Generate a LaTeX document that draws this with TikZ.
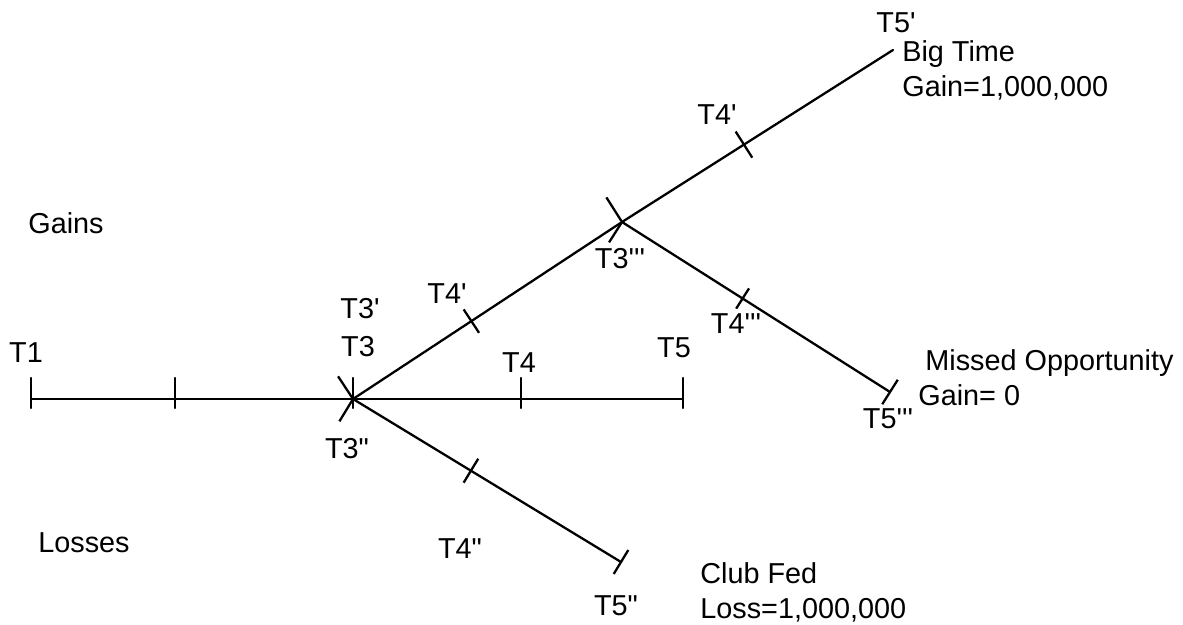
\documentclass[tikz,border=0pt]{standalone}
\usepackage{fontspec}
\setmainfont{Liberation Sans}
\usepackage{tikz}

\newcommand\onep{\textquotesingle}
\newcommand\twop{\textquotedbl}
\newcommand\threep{\textquotesingle\textquotesingle\textquotesingle}

\tikzset{
  branch/.style={line width=1.3pt, line cap=round},
  tickmark/.style={draw, line width=1.3pt, sloped, rectangle, minimum width=0pt,
    minimum height=#1, inner sep=0pt},
  tickmark/.default=0.56cm,
  lbl/.style={font=\fontsize{16.4}{19}\selectfont, inner sep=0pt, anchor=base},
  txt/.style={lbl, anchor=base west}
}

\begin{document}
\begin{tikzpicture}[x=0.02cm, y=-0.02cm]

\useasboundingbox (0,0) rectangle (1183,625);

% Punti dell'albero (coordinate in pixel)
\coordinate (t1) at (31,399);
\coordinate (t2) at (175,399);
\coordinate (t3) at (353,399);
\coordinate (t4) at (521,399);
\coordinate (t5) at (683,399);
\coordinate (t3u) at (622,222);  % T3'''
\coordinate (t5a) at (893,50);   % T5'
\coordinate (t5c) at (890,392);  % T5'''
\coordinate (t5b) at (621,562);  % T5''

% Linea principale
\draw[branch] (t1) -- (t5);
\foreach \c in {t1,t2,t3,t4,t5}
  \draw[branch] (\c) ++(0,9) -- ++(0,-30);

% Ramo dei guadagni
\draw[branch] (t3) -- (t3u)
  node[tickmark=0.52cm, pos=0, anchor=south] (k3a) {}
  node[tickmark, pos=0.44] (k4a) {};
\draw[branch] (t3u) -- (t5a)
  node[tickmark=0.56cm, pos=0, anchor=south] (k3u) {}
  node[tickmark=0.62cm, pos=0.45] (k4u) {};
\draw[branch] (t3u) -- (t5c)
  node[tickmark=0.46cm, pos=0, anchor=north] (k3d) {}
  node[tickmark=0.48cm, pos=0.45] (k4d) {}
  node[tickmark=0.58cm, pos=1] (k5d) {};

% Ramo delle perdite
\draw[branch] (t3) -- (t5b)
  node[tickmark=0.5cm, pos=0, anchor=north] (k3b) {}
  node[tickmark, pos=0.44] (k4b) {}
  node[tickmark, pos=1] (k5b) {};

% Etichette dei tempi
\node[lbl] (l1) at (26,362) {T1};
\node[lbl] (l3) at (358,356) {T3};
\node[lbl] (l3a) at (360,318) {T3\onep};
\node[lbl] (l4) at (519,372) {T4};
\node[lbl] (l5) at (674,357) {T5};
\node[lbl] (l3b) at (347,458) {T3\twop};
\node[lbl] (l4a) at (447,303) {T4\onep};
\node[lbl] (l4u) at (717,125) {T4\onep};
\node[lbl] (l5a) at (896,33) {T5\onep};
\node[lbl] (l3u) at (620,268) {T3\threep};
\node[lbl] (l4d) at (736,333) {T4\threep};
\node[lbl] (l5d) at (888,428) {T5\threep};
\node[lbl] (l4b) at (460,558) {T4\twop};
\node[lbl] (l5b) at (616,615) {T5\twop};

% Testi
\node[txt] (gains) at (28,233) {Gains};
\node[txt] (losses) at (38,552) {Losses};
\node[txt] (bigtime) at (902,62) {Big Time};
\node[txt] (gainbig) at (902,97) {Gain=1,000,000};
\node[txt] (missed) at (925,370) {Missed Opportunity};
\node[txt] (gainzero) at (918,405) {Gain= 0};
\node[txt] (clubfed) at (700,583) {Club Fed};
\node[txt] (lossbig) at (700,618) {Loss=1,000,000};

\end{tikzpicture}
\end{document}
